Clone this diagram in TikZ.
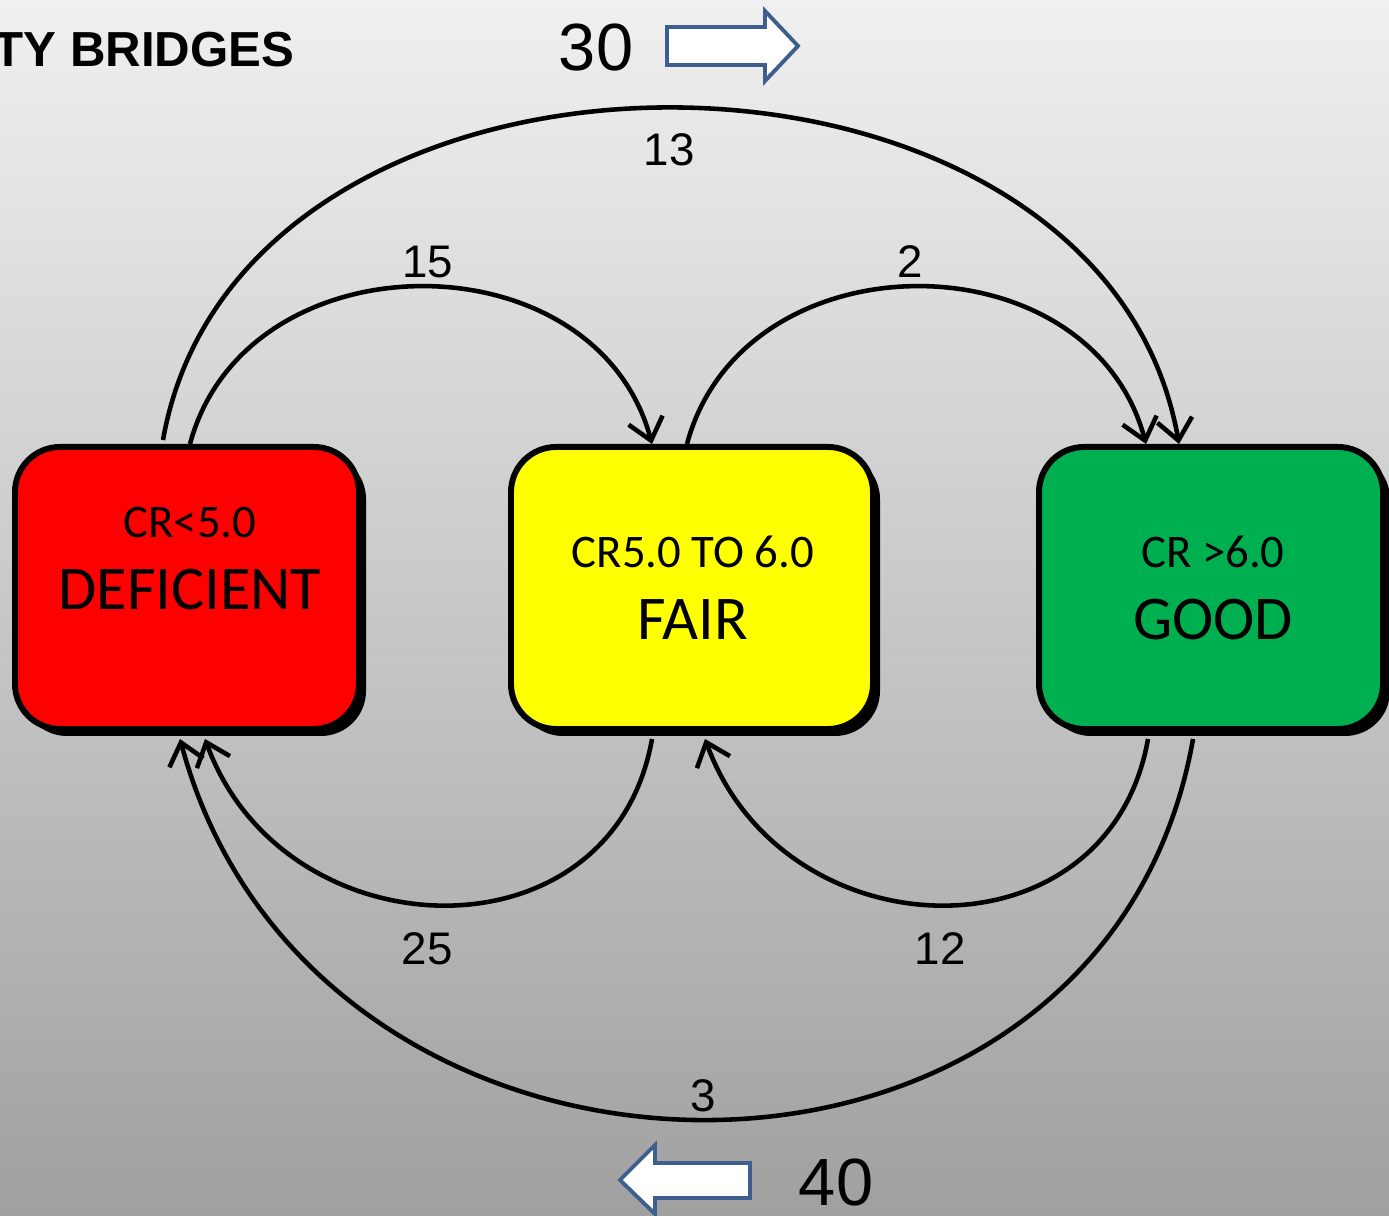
\documentclass[tikz,border=0pt]{standalone}
\usepackage{fontspec}
\setmainfont{Liberation Sans}
\newfontfamily\boxfont{Carlito}
\usetikzlibrary{arrows.meta, shadows, calc}

\definecolor{bgtop}{HTML}{F0F0F0}
\definecolor{bgbottom}{HTML}{A0A0A0}
\definecolor{blockblue}{HTML}{3C5F8E}
\definecolor{redbox}{HTML}{FF0000}
\definecolor{yellowbox}{HTML}{FFFF00}
\definecolor{greenbox}{HTML}{00B050}

\begin{document}
\begin{tikzpicture}[
		state/.style={draw=black, line width=1.7pt, rounded corners=0.45cm,
			minimum height=2.82cm,
			drop shadow={shadow xshift=0.07cm, shadow yshift=-0.07cm,
				opacity=1, fill=black}},
		statetext/.style={align=center, font=\boxfont\fontsize{17.7}{20.5}\selectfont},
		flow/.style={line width=1.3pt, line join=round,
			-{Straight Barb[length=6pt, width=10pt]}},
		count/.style={font=\fontsize{13}{15}\selectfont},
		bignum/.style={font=\fontsize{19}{22}\selectfont},
		blockarrow/.style={draw=blockblue, fill=white, line width=1.1pt}
	]
		\useasboundingbox (0,0) rectangle (13.89,12.16);
		\shade [top color=bgtop, bottom color=bgbottom] (0,0) rectangle (13.89,12.16);

		% title and totals
		\node [anchor=west, inner sep=0pt, font=\bfseries\fontsize{14}{16}\selectfont]
			(title) at (-0.07,11.66) {TY BRIDGES};
		\node [bignum] (up-count) at (5.96,11.68) {30};
		\draw [blockarrow] (6.67,11.89) -- (7.65,11.89) -- (7.65,12.05) -- (7.98,11.70)
			-- (7.65,11.35) -- (7.65,11.51) -- (6.67,11.51) -- cycle;
		\node [bignum] (down-count) at (8.36,0.33) {40};
		\draw [blockarrow] (7.50,0.53) -- (6.55,0.53) -- (6.55,0.71) -- (6.20,0.36)
			-- (6.55,0.02) -- (6.55,0.18) -- (7.50,0.18) -- cycle;

		% condition states
		\node [state, fill=redbox, minimum width=3.44cm] (def) at (1.87,6.28) {};
		\node [state, fill=yellowbox, minimum width=3.62cm] (fair) at (6.92,6.28) {};
		\node [state, fill=greenbox, minimum width=3.44cm] (good) at (12.11,6.28) {};

		\node [statetext] (def-text) at ([xshift=0.03cm, yshift=0.29cm]def.center)
			{{\fontsize{13.3}{16}\selectfont CR<5.0}\\DEFICIENT};
		\node [statetext] (fair-text) at ([xshift=0.01cm]fair.center)
			{{\fontsize{13.3}{16}\selectfont CR5.0 TO 6.0}\\FAIR};
		\node [statetext] (good-text) at ([xshift=0.02cm]good.center)
			{{\fontsize{13.3}{16}\selectfont CR >6.0}\\GOOD};

		% upgrades
		\draw [flow] ([xshift=0.03cm]def.north) .. controls +(75:2.17) and +(105:2.17)
			.. ([xshift=-0.40cm]fair.north)
			node [count, pos=0.5, xshift=0.07cm, yshift=0.25cm] (n15) {15};
		\draw [flow] ([xshift=-0.05cm]fair.north) .. controls +(75:2.17) and +(105:2.17)
			.. ([xshift=-0.65cm]good.north)
			node [count, pos=0.5, xshift=-0.06cm, yshift=0.25cm] (n2) {2};
		\draw [flow] ([xshift=-0.24cm, yshift=0.04cm]def.north) .. controls +(80:4.52) and +(100:4.52)
			.. ([xshift=-0.32cm]good.north)
			node [count, pos=0.5, xshift=-0.02cm, yshift=-0.42cm] (n13) {13};

		% downgrades
		\draw [flow] ([xshift=-0.40cm, yshift=-0.07cm]fair.south) .. controls +(260:2.3) and +(290:2.3)
			.. ([xshift=0.18cm, yshift=-0.07cm]def.south)
			node [count, pos=0.5, xshift=-0.16cm, yshift=-0.44cm] (n25) {25};
		\draw [flow] ([xshift=-0.63cm, yshift=-0.07cm]good.south) .. controls +(260:2.3) and +(290:2.3)
			.. ([xshift=0.13cm, yshift=-0.07cm]fair.south)
			node [count, pos=0.5, xshift=-0.01cm, yshift=-0.44cm] (n12) {12};
		\draw [flow] ([xshift=-0.18cm, yshift=-0.07cm]good.south) .. controls +(260:5.2) and +(285:5.2)
			.. ([xshift=-0.07cm, yshift=-0.07cm]def.south)
			node [count, pos=0.5, yshift=0.24cm] (n3) {3};
	\end{tikzpicture}
\end{document}
